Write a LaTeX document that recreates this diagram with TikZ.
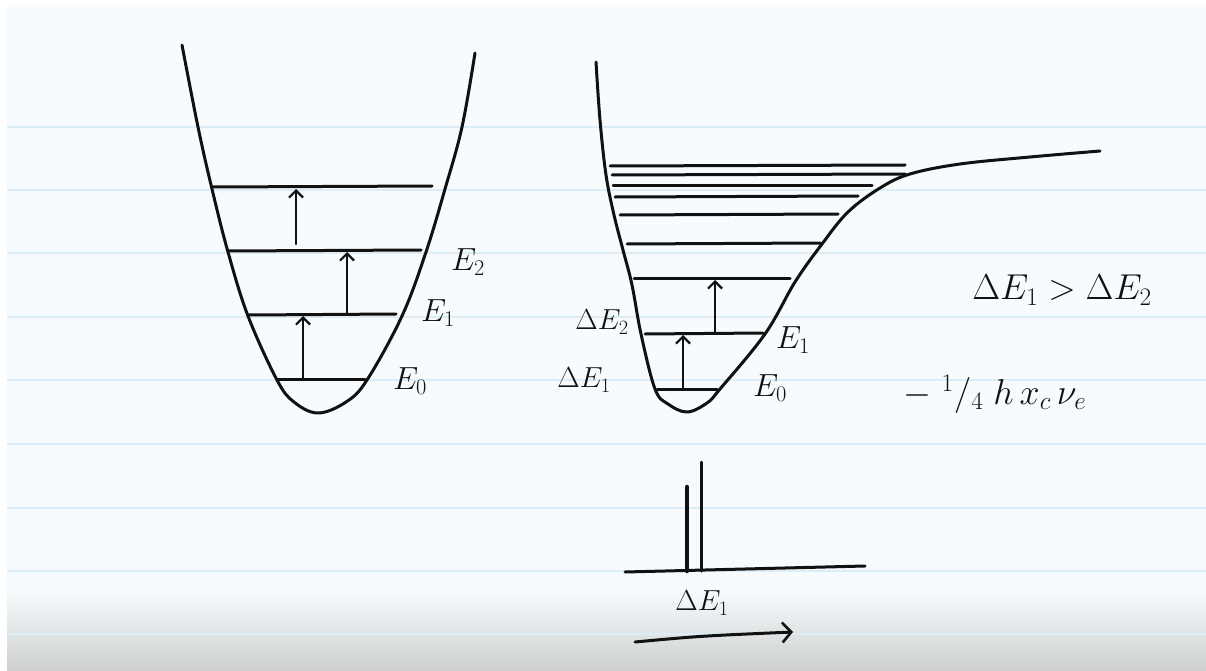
\RequirePackage{fix-cm}
\documentclass[tikz,border=0pt]{standalone}
\usetikzlibrary{arrows.meta}
\definecolor{paper}{HTML}{F7FBFD}
\definecolor{ruleblue}{HTML}{DCEDF8}
\definecolor{ink}{HTML}{111111}
\definecolor{bottomgrey}{HTML}{CDCFCF}
\begin{document}
\begin{tikzpicture}[x=1pt,y=-1pt,
  curve/.style={draw=ink,line width=3pt,line cap=round,line join=round},
  level/.style={draw=ink,line width=3pt,line cap=round},
  up/.style={draw=ink,line width=2.2pt,line cap=round,-{Straight Barb[length=7pt,width=14pt,line width=2.2pt]}},
  lbl/.style={font=\fontsize{32}{36}\selectfont,text=ink,inner sep=0pt},
  dlbl/.style={font=\fontsize{29}{33}\selectfont,text=ink,inner sep=0pt},
  big/.style={font=\fontsize{36}{42}\selectfont,text=ink,inner sep=0pt}]
\useasboundingbox (0,0) rectangle (1206,671);
\fill[white] (0,0) rectangle (1206,671);
\fill[paper] (7,7) rectangle (1206,671);
\shade[top color=paper,bottom color=bottomgrey] (7,590) rectangle (1206,671);
\foreach \y in {127,190,253,317,380,444,508,571,634}
  \draw[ruleblue,line width=2pt] (7,\y) -- (1206,\y);

% ---------- harmonic potential ----------
\draw[curve] plot[smooth,tension=0.6] coordinates {(182,45) (198,127) (212,189) (228,252) (248,316) (277,380) (294,402) (318,413) (346,402) (367,380) (402,316) (426,252) (445,189) (462,127) (475,53)};
\draw[level] (213,187) -- (432,186);
\draw[level] (228,251) -- (421,250);
\draw[level] (249,315) -- (396,314);
\draw[level] (278,379) -- (365,379);
\coordinate (a1s) at (303,379); \coordinate (a1e) at (303,316);
\coordinate (a2s) at (347,314); \coordinate (a2e) at (347,252);
\coordinate (a3s) at (296,244); \coordinate (a3e) at (296,189);
\draw[up] (a1s) -- (a1e);
\draw[up] (a2s) -- (a2e);
\draw[up] (a3s) -- (a3e);
\node[lbl] (lE2) at (468,262) {$E_2$};
\node[lbl] (lE1) at (438,313) {$E_1$};
\node[lbl] (lE0) at (410,381) {$E_0$};

% ---------- anharmonic (Morse) potential ----------
\draw[curve] plot[smooth,tension=0.6] coordinates {(596,62) (600,120) (606,175) (614,215) (623,250) (632,285) (641,334) (655,389) (668,404) (687,412) (707,403) (720,389) (765,334) (795,282) (822,244) (848,212) (880,188) (910,174) (960,164) (1030,157) (1100,151)};
\draw[level] (610,166) -- (905,165);
\draw[level] (612,175) -- (905,174);
\draw[level] (613,185) -- (872,185);
\draw[level] (615,197) -- (858,196);
\draw[level] (620,215) -- (838,214);
\draw[level] (627,244) -- (820,243);
\draw[level] (634,278) -- (790,278);
\draw[level] (645,334) -- (763,333);
\draw[level] (657,389) -- (717,389);
\coordinate (b1s) at (683,389); \coordinate (b1e) at (683,335);
\coordinate (b2s) at (715,333); \coordinate (b2e) at (715,280);
\draw[up] (b1s) -- (b1e);
\draw[up] (b2s) -- (b2e);
\node[dlbl] (rdE2) at (602,322) {$\Delta E_2$};
\node[dlbl] (rdE1) at (584,380) {$\Delta E_1$};
\node[lbl] (rE1) at (793,340) {$E_1$};
\node[lbl] (rE0) at (770,388) {$E_0$};

% ---------- relations ----------
\node[big] (rel) at (1062,290) {$\Delta E_1 > \Delta E_2$};
\node[big] (corr) at (995,394) {$-\;{}^{1}/{}_{4}\;h\,x_c\,\nu_e$};

% ---------- spectrum ----------
\coordinate (axL) at (625,572); \coordinate (axR) at (865,566);
\draw[curve] (axL) -- (axR);
\coordinate (p1t) at (687,487); \coordinate (p1b) at (687,571);
\coordinate (p2t) at (701,462); \coordinate (p2b) at (701,571);
\draw[draw=ink,line width=4.5pt,line cap=round] (p1t) -- (p1b);
\draw[curve] (p2t) -- (p2b);
\node[dlbl] (sdE1) at (702,603) {$\Delta E_1$};
\coordinate (arL) at (635,642); \coordinate (arR) at (793,632);
\draw[curve,-{Straight Barb[length=9pt,width=20pt,line width=2.6pt]}] (arL) .. controls (700,636) .. (arR);
\end{tikzpicture}
\end{document}
